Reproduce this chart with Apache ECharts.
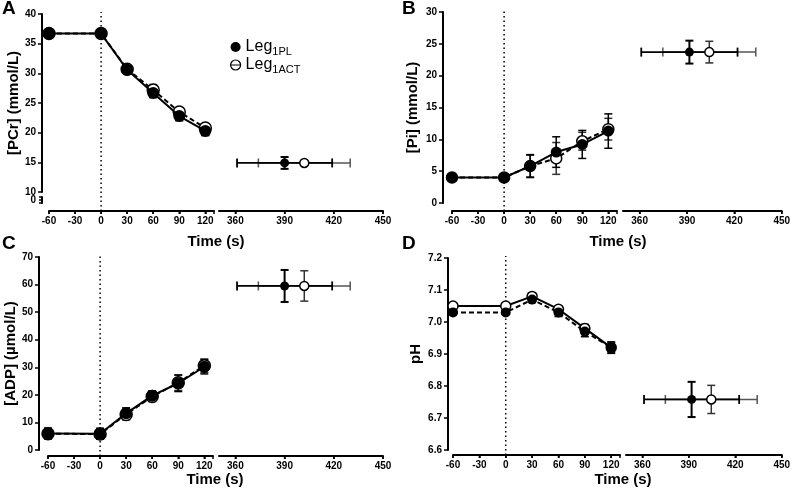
<!DOCTYPE html>
<html>
<head>
<meta charset="utf-8">
<script src="https://cdn.jsdelivr.net/npm/echarts@6/dist/echarts.min.js"></script>
<style>html,body{margin:0;padding:0;background:#fff;}#c{width:798px;height:498px;}</style>
</head>
<body>
<div id="c"></div>
<script>
// ---------- data ----------
const sampleTimes = [-60, 0, 30, 60, 90, 120];
const timeTicks = [-60, -30, 0, 30, 60, 90, 120];
const endTimeTicks = [360, 390, 420, 450];
const timeAxisMin = -60, timeAxisMax = 130, timeStep = 30;
const endAxisMin = 350, endAxisFirstTick = 360, endAxisMax = 450;
const endTimes = [390, 402];      // [Leg1PL, Leg1ACT]
const endTimeSD = [29, 28];

const pcrPL = [36.7, 36.7, 30.6, 26.7, 22.8, 20.3];
const pcrPLsd = [0.6, 0.6, 0.6, 0.8, 0.8, 0.8];
const pcrACT = [36.7, 36.7, 30.7, 27.2, 23.5, 20.8];
const pcrACTsd = [0.5, 0.5, 0.5, 0.9, 0.7, 0.7];
const pcrEnd = [14.9, 14.9];
const pcrEndSD = [1.0, 0.3];
const pcrTicks = [10, 15, 20, 25, 30, 35, 40];

const piPL = [4.0, 4.0, 5.8, 8.0, 9.2, 11.3];
const piPLsd = [0.3, 0.3, 1.8, 2.4, 2.2, 2.7];
const piACT = [4.0, 4.0, 5.8, 7.0, 9.7, 11.6];
const piACTsd = [0.3, 0.3, 1.7, 2.5, 1.4, 1.7];
const piEnd = [23.7, 23.7];
const piEndSD = [1.8, 1.7];
const piTicks = [0, 5, 10, 15, 20, 25, 30];

const adpPL = [6.0, 5.9, 13.3, 19.7, 24.2, 30.2];
const adpPLsd = [2.0, 2.0, 2.0, 1.8, 3.0, 2.6];
const adpACT = [5.9, 5.8, 12.9, 19.4, 24.4, 30.6];
const adpACTsd = [1.8, 1.8, 2.0, 1.8, 2.8, 2.4];
const adpEnd = [59.5, 59.5];
const adpEndSD = [5.8, 5.5];
const adpTicks = [0, 10, 20, 30, 40, 50, 60, 70];

const phPL = [7.03, 7.03, 7.07, 7.03, 6.97, 6.92];
const phPLsd = [0.005, 0.005, 0.006, 0.013, 0.016, 0.018];
const phACT = [7.05, 7.05, 7.08, 7.04, 6.98, 6.92];
const phACTsd = [0.005, 0.005, 0.006, 0.01, 0.013, 0.015];
const phEnd = [6.758, 6.758];
const phEndSD = [0.055, 0.044];
const phTicks = [6.6, 6.7, 6.8, 6.9, 7.0, 7.1, 7.2];

// ---------- layout / style ----------
const FONT = 'Liberation Sans';
const panels = [
  {letter:'A', lx:2, ly:9, yName:'[PCr] (mmol/L)', ticks:pcrTicks, yInt:5, dec:0, top:14, h:178, yOff:7, xOff:19,
   L:[49,165], R:[219,164], tx:216, ty:242, nameGap:20, sym:12,
   pl:pcrPL, plsd:pcrPLsd, act:pcrACT, actsd:pcrACTsd, end:pcrEnd, endsd:pcrEndSD, plDash:false, actDash:true, stub:true},
  {letter:'B', lx:402, ly:9, yName:'[Pi] (mmol/L)', ticks:piTicks, yInt:5, dec:0, top:12, h:191, yOff:9, xOff:8,
   L:[452,165], R:[623,166], tx:618, ty:242, nameGap:23, sym:11,
   pl:piPL, plsd:piPLsd, act:piACT, actsd:piACTsd, end:piEnd, endsd:piEndSD, plDash:false, actDash:true},
  {letter:'C', lx:2, ly:244, yName:'[ADP] (µmol/L)', ticks:adpTicks, yInt:10, dec:0, top:257, h:193, yOff:9, xOff:6,
   L:[48,165], R:[219,164], tx:215, ty:480, nameGap:20, sym:12,
   pl:adpPL, plsd:adpPLsd, act:adpACT, actsd:adpACTsd, end:adpEnd, endsd:adpEndSD, plDash:false, actDash:true},
  {letter:'D', lx:402, ly:244, yName:'pH', ticks:phTicks, yInt:0.1, dec:1, top:258, h:192, yOff:5, xOff:5,
   L:[453,167], R:[626,164], tx:623, ty:480, nameGap:25, sym:10,
   pl:phPL, plsd:phPLsd, act:phACT, actsd:phACTsd, end:phEnd, endsd:phEndSD, plDash:true, actDash:false}
];

function axisLineOn() { return {show:true, onZero:false, lineStyle:{color:'#000', width:2}}; }
function labelStyle(extra) {
  return Object.assign({color:'#000', fontWeight:'bold', fontSize:10, fontFamily:FONT}, extra || {});
}
function tickStyle(len) { return {show:true, length:len, lineStyle:{color:'#000', width:1.5}}; }

function vErr(color, cap, lw) {
  return function (params, api) {
    const x = api.value(0), lo = api.value(1), hi = api.value(2);
    const a = api.coord([x, hi]), b = api.coord([x, lo]);
    const st = {stroke: color, lineWidth: lw};
    return {type:'group', children:[
      {type:'line', shape:{x1:a[0], y1:a[1], x2:b[0], y2:b[1]}, style:st},
      {type:'line', shape:{x1:a[0]-cap, y1:a[1], x2:a[0]+cap, y2:a[1]}, style:st},
      {type:'line', shape:{x1:b[0]-cap, y1:b[1], x2:b[0]+cap, y2:b[1]}, style:st}
    ]};
  };
}
function hErr(color, cap, lw) {
  return function (params, api) {
    const y = api.value(0), lo = api.value(1), hi = api.value(2);
    const a = api.coord([lo, y]), b = api.coord([hi, y]);
    const st = {stroke: color, lineWidth: lw};
    return {type:'group', children:[
      {type:'line', shape:{x1:a[0], y1:a[1], x2:b[0], y2:b[1]}, style:st},
      {type:'line', shape:{x1:a[0], y1:a[1]-cap, x2:a[0], y2:a[1]+cap}, style:st},
      {type:'line', shape:{x1:b[0], y1:b[1]-cap, x2:b[0], y2:b[1]+cap}, style:st}
    ]};
  };
}
// tick marks of the time axis, placed through the axis scale
function timeTickRender(params, api) {
  const p = api.coord([api.value(0), 0]);
  return {type:'line', shape:{x1:p[0], y1:p[1], x2:p[0], y2:p[1] + 3}, style:{stroke:'#000', lineWidth:1.5}};
}

const option = {
  animation:false,
  grid:[], xAxis:[], yAxis:[], series:[], graphic:[],
  legend:{
    left:230, top:39, padding:0, orient:'vertical', itemGap:0, itemWidth:10, itemHeight:10, selectedMode:false,
    data:[
      {name:'Leg1PL', icon:'circle', itemStyle:{color:'#000', borderWidth:0, opacity:1}},
      {name:'Leg1ACT', icon:'path://M0,5A5,5,0,1,1,10,5A5,5,0,1,1,0,5ZM0,5L10,5', itemStyle:{color:'#fff', borderColor:'#000', borderWidth:1.2, opacity:1}}
    ],
    formatter: function (n) { return n === 'Leg1PL' ? '{m|Leg}{s|1PL}' : '{m|Leg}{s|1ACT}'; },
    textStyle:{color:'#000', rich:{
      m:{fontSize:16, fontFamily:FONT, color:'#000', lineHeight:16, verticalAlign:'top'},
      s:{fontSize:11, fontFamily:FONT, color:'#000', lineHeight:10, verticalAlign:'top', padding:[7,0,0,0]}
    }}
  }
};

function addGrid(g, xa, ya) {
  const i = option.grid.length;
  option.grid.push(g);
  option.xAxis.push(Object.assign({gridIndex:i, type:'value', splitLine:{show:false}}, xa));
  option.yAxis.push(Object.assign({gridIndex:i, type:'value', splitLine:{show:false}}, ya));
  return i;
}

panels.forEach(function (p) {
  const yMin = p.ticks[0], yMax = p.ticks[p.ticks.length - 1];
  const yLabelFmt = function (v) { return v.toFixed(p.dec); };
  const axisH = p.h + 2 + p.xOff;  // grids whose bottom edge is the time axis line
  const hiddenY = {min:0, max:10, show:false, axisLine:{show:false}};
  const blankName = {name:' ', nameTextStyle:{fontSize:1}};
  // left time axis
  const lai = addGrid({left:p.L[0], width:p.L[1], top:p.top - 2, height:axisH},
    Object.assign({min:timeAxisMin, max:timeAxisMax, interval:timeStep, axisLine:axisLineOn(), axisTick:tickStyle(3),
     axisLabel:labelStyle({margin:5, formatter:function (v) { return v > 120 ? '' : String(v); }})}, blankName),
    hiddenY);
  option.series.push({type:'line', xAxisIndex:lai, yAxisIndex:lai, data:[[0,0],[0,10]], showSymbol:false, silent:true,
    lineStyle:{color:'#000', width:1.5, type:[1.5,3]}, z:1});
  option.series.push({type:'line', xAxisIndex:lai, yAxisIndex:lai, data:[[timeAxisMin,0],[timeAxisMax,0]],
    showSymbol:false, silent:true, clip:false, lineStyle:{color:'#000', width:2}, z:1});
  option.series.push({type:'custom', xAxisIndex:lai, yAxisIndex:lai, silent:true, clip:false, z:1,
    renderItem:timeTickRender, encode:{x:0}, data:timeTicks.map(function (t) { return [t]; })});
  // right time axis: line over the whole segment, ticks/labels from the first tick on
  const rai = addGrid({left:p.R[0], width:p.R[1], top:p.top - 2, height:axisH},
    Object.assign({min:endAxisMin, max:endAxisMax, axisLine:axisLineOn(), axisTick:{show:false}, axisLabel:{show:false}}, blankName),
    hiddenY);
  option.series.push({type:'line', xAxisIndex:rai, yAxisIndex:rai, data:[[endAxisMin,0],[endAxisMax,0]],
    showSymbol:false, silent:true, clip:false, lineStyle:{color:'#000', width:2}, z:1});
  const frac = (endAxisFirstTick - endAxisMin) / (endAxisMax - endAxisMin);
  const rti = addGrid({left:p.R[0] + p.R[1] * frac, width:p.R[1] * (1 - frac), top:p.top - 2, height:axisH},
    Object.assign({min:endAxisFirstTick, max:endAxisMax, interval:timeStep, axisLine:{show:false}, axisTick:tickStyle(3),
     axisLabel:labelStyle({margin:5})}, blankName),
    hiddenY);
  option.series.push({type:'custom', xAxisIndex:rti, yAxisIndex:rti, silent:true, clip:false, z:1,
    renderItem:timeTickRender, encode:{x:0}, data:endTimeTicks.map(function (t) { return [t]; })});
  // data grids
  const li = addGrid({left:p.L[0], width:p.L[1], top:p.top, height:p.h},
    {min:timeAxisMin, max:timeAxisMax, show:false},
    {min:yMin, max:yMax, interval:p.yInt, offset:p.yOff,
     axisLine:axisLineOn(), axisTick:tickStyle(4),
     axisLabel:labelStyle({margin:6, formatter:yLabelFmt}),
     name:p.yName, nameLocation:'middle', nameGap:p.nameGap,
     nameTextStyle:{color:'#000', fontWeight:'bold', fontSize:15, fontFamily:FONT}});
  const ri = addGrid({left:p.R[0], width:p.R[1], top:p.top, height:p.h},
    {min:endAxisMin, max:endAxisMax, show:false}, {min:yMin, max:yMax, show:false});
  if (p.stub) {
    // broken y axis: the "0" stub below 10
    addGrid({left:p.L[0], width:p.L[1], top:197, height:6},
      {min:timeAxisMin, max:timeAxisMax, show:false},
      Object.assign({min:-0.5, max:0.5, interval:0.5, offset:p.yOff, axisLine:axisLineOn(), axisTick:tickStyle(3),
       axisLabel:labelStyle({margin:6, formatter:function (v) { return Math.abs(v) < 1e-9 ? '0' : ''; }})}, blankName));
  }
  // left error bars
  option.series.push({type:'custom', name:'ACT sd', xAxisIndex:li, yAxisIndex:li, z:2, silent:true,
    renderItem:vErr('#333', 4, 1.5), encode:{x:0, y:[1,2]},
    data:sampleTimes.map(function (t, k) { return [t, p.act[k] - p.actsd[k], p.act[k] + p.actsd[k]]; })});
  option.series.push({type:'custom', name:'PL sd', xAxisIndex:li, yAxisIndex:li, z:2, silent:true,
    renderItem:vErr('#000', 4, 1.5), encode:{x:0, y:[1,2]},
    data:sampleTimes.map(function (t, k) { return [t, p.pl[k] - p.plsd[k], p.pl[k] + p.plsd[k]]; })});
  // left lines
  option.series.push({type:'line', name:'Leg1ACT', xAxisIndex:li, yAxisIndex:li, z:3,
    data:sampleTimes.map(function (t, k) { return [t, p.act[k]]; }),
    symbol:'circle', symbolSize:p.sym, showAllSymbol:true,
    itemStyle:{color:'#fff', borderColor:'#000', borderWidth:1.5, opacity:1},
    lineStyle:{color:'#000', width:2, type:p.actDash ? [5,3] : 'solid'}});
  option.series.push({type:'line', name:'Leg1PL', xAxisIndex:li, yAxisIndex:li, z:4,
    data:sampleTimes.map(function (t, k) { return [t, p.pl[k]]; }),
    symbol:'circle', symbolSize:p.sym, showAllSymbol:true,
    itemStyle:{color:'#000', borderColor:'#000', borderWidth:0, opacity:1},
    lineStyle:{color:'#000', width:2, type:p.plDash ? [5,3] : 'solid'}});
  // right: end of exercise
  option.series.push({type:'custom', name:'ACT time sd', xAxisIndex:ri, yAxisIndex:ri, z:2, silent:true,
    renderItem:hErr('#555', 4.5, 1.5), encode:{x:[1,2], y:0},
    data:[[p.end[1], endTimes[1] - endTimeSD[1], endTimes[1] + endTimeSD[1]]]});
  option.series.push({type:'custom', name:'PL time sd', xAxisIndex:ri, yAxisIndex:ri, z:2, silent:true,
    renderItem:hErr('#000', 4.5, 1.8), encode:{x:[1,2], y:0},
    data:[[p.end[0], endTimes[0] - endTimeSD[0], endTimes[0] + endTimeSD[0]]]});
  option.series.push({type:'custom', name:'ACT end sd', xAxisIndex:ri, yAxisIndex:ri, z:2, silent:true,
    renderItem:vErr('#333', 4, 1.5), encode:{x:0, y:[1,2]},
    data:[[endTimes[1], p.end[1] - p.endsd[1], p.end[1] + p.endsd[1]]]});
  option.series.push({type:'custom', name:'PL end sd', xAxisIndex:ri, yAxisIndex:ri, z:2, silent:true,
    renderItem:vErr('#000', 4, 2), encode:{x:0, y:[1,2]},
    data:[[endTimes[0], p.end[0] - p.endsd[0], p.end[0] + p.endsd[0]]]});
  option.series.push({type:'scatter', name:'Leg1ACT', xAxisIndex:ri, yAxisIndex:ri, z:3,
    data:[[endTimes[1], p.end[1]]], symbol:'circle', symbolSize:9,
    itemStyle:{color:'#fff', borderColor:'#000', borderWidth:1.5, opacity:1}});
  option.series.push({type:'scatter', name:'Leg1PL', xAxisIndex:ri, yAxisIndex:ri, z:4,
    data:[[endTimes[0], p.end[0]]], symbol:'circle', symbolSize:9,
    itemStyle:{color:'#000', opacity:1}});
  // panel letter and time title
  option.graphic.push({type:'text', x:p.lx, y:p.ly, silent:true,
    style:{text:p.letter, fill:'#000', font:'bold 19px ' + FONT, textVerticalAlign:'middle'}});
  option.graphic.push({type:'text', x:p.tx, y:p.ty, silent:true,
    style:{text:'Time (s)', fill:'#000', font:'bold 15px ' + FONT, textAlign:'center', textVerticalAlign:'middle'}});
});

const chart = echarts.init(document.getElementById('c'), null, {renderer:'canvas'});
chart.setOption(option);
</script>
</body>
</html>
